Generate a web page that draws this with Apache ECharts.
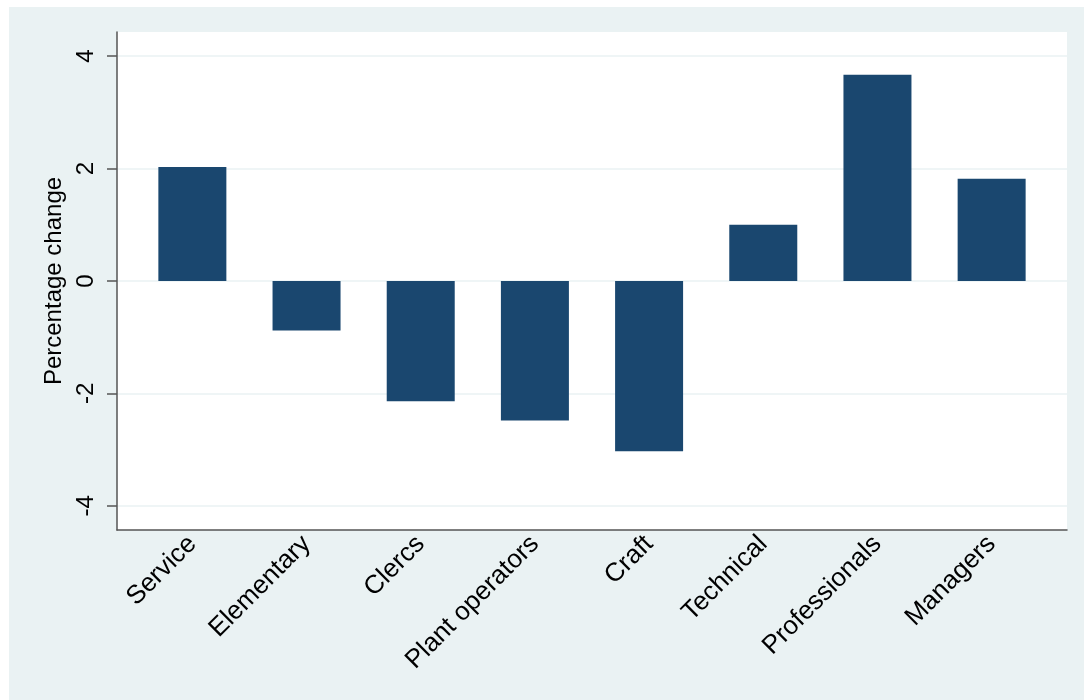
<!DOCTYPE html>
<html>
<head>
<meta charset="utf-8">
<script src="https://cdn.jsdelivr.net/npm/echarts@6/dist/echarts.min.js"></script>
<style>
html,body{margin:0;padding:0;background:#ffffff;}
#c{position:absolute;left:9px;top:7px;width:1075px;height:693px;background:#eaf2f3;}
</style>
</head>
<body>
<div id="c"></div>
<script>
const categories = ["Service", "Elementary", "Clercs", "Plant operators", "Craft", "Technical", "Professionals", "Managers"];
const values = [2.03, -0.88, -2.14, -2.48, -3.03, 1.0, 3.67, 1.82];
const yTicks = [-4, -2, 0, 2, 4];
const yTitle = "Percentage change";

const chart = echarts.init(document.getElementById('c'), null, {renderer: 'canvas'});
const font = "'Liberation Sans', Arial, sans-serif";
const barData = values.map((v, i) => [i, v]);
const idx = categories.map((c, i) => i);

chart.setOption({
  animation: false,
  backgroundColor: 'transparent',
  grid: {
    left: 108, top: 25, width: 950, bottom: 170,
    show: true, backgroundColor: '#ffffff', borderWidth: 0
  },
  xAxis: {
    type: 'value',
    min: -0.66, max: 7.66,
    axisLine: {show: true, onZero: false, lineStyle: {color: '#555555', width: 1.5}},
    axisTick: {show: false},
    splitLine: {show: false},
    axisLabel: {
      customValues: idx,
      rotate: 45,
      margin: 10,
      fontSize: 26,
      fontFamily: font,
      color: '#000000',
      formatter: v => categories[Math.round(v)] || ''
    }
  },
  yAxis: {
    type: 'value',
    min: -4.43, max: 4.43,
    name: yTitle,
    nameLocation: 'middle',
    nameGap: 50,
    nameTextStyle: {fontSize: 24, fontFamily: font, color: '#000000'},
    axisLine: {show: true, onZero: false, lineStyle: {color: '#555555', width: 1.5}},
    axisTick: {show: true, customValues: yTicks, length: 10, lineStyle: {color: '#555555', width: 1.5}},
    splitLine: {show: false},
    axisLabel: {
      customValues: yTicks,
      rotate: 90,
      margin: 19,
      fontSize: 24,
      fontFamily: font,
      color: '#000000'
    }
  },
  series: [{
    type: 'bar',
    data: barData,
    barWidth: 68,
    itemStyle: {color: '#1a476f'},
    markLine: {
      silent: true,
      symbol: 'none',
      label: {show: false},
      z: 0,
      lineStyle: {color: '#eaf2f3', width: 1.5, type: 'solid'},
      data: yTicks.map(t => ({yAxis: t}))
    }
  }]
});
</script>
</body>
</html>
